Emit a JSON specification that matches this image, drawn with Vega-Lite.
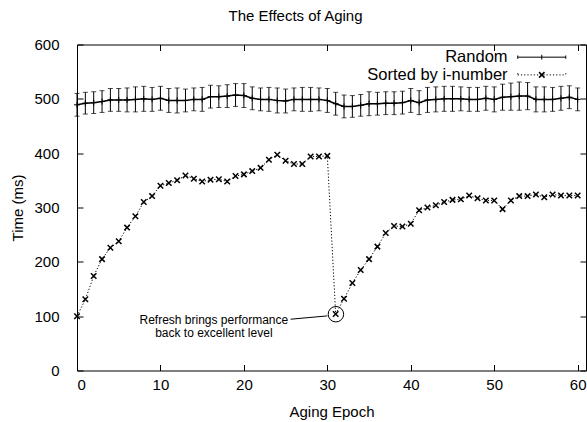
{
  "$schema": "https://vega.github.io/schema/vega-lite/v6.json",
  "width": 509,
  "height": 326,
  "autosize": "none",
  "padding": {"left": 77, "top": 44.5, "right": 1, "bottom": 51.5},
  "background": "white",
  "title": {"text": "The Effects of Aging", "fontSize": 15, "font": "Liberation Sans", "fontWeight": "normal", "color": "black", "anchor": "middle", "dx": -36, "offset": 14},
  "config": {
    "view": {"stroke": "black", "strokeWidth": 1},
    "axis": {"labelFont": "Liberation Sans", "labelFontSize": 15, "labelColor": "black", "titleFont": "Liberation Sans", "titleFontSize": 15, "titleFontWeight": "normal", "titleColor": "black", "tickColor": "black", "tickSize": -6, "domain": false, "grid": false},
    "text": {"font": "Liberation Sans", "color": "black"}
  },
  "datasets": {
    "random": [
      {"x":0,"y":489,"lo":468,"hi":510},{"x":1,"y":492,"lo":472,"hi":512},{"x":2,"y":493,"lo":473,"hi":513},{"x":3,"y":495,"lo":475,"hi":515},{"x":4,"y":498,"lo":477,"hi":519},{"x":5,"y":498,"lo":477,"hi":519},{"x":6,"y":498,"lo":476,"hi":520},{"x":7,"y":499,"lo":476,"hi":522},{"x":8,"y":500,"lo":477,"hi":523},{"x":9,"y":499,"lo":477,"hi":521},{"x":10,"y":501,"lo":479,"hi":523},
      {"x":11,"y":497,"lo":475,"hi":519},{"x":12,"y":497,"lo":474,"hi":520},{"x":13,"y":497,"lo":476,"hi":518},{"x":14,"y":499,"lo":478,"hi":520},{"x":15,"y":499,"lo":477,"hi":521},{"x":16,"y":504,"lo":483,"hi":525},{"x":17,"y":504,"lo":484,"hi":524},{"x":18,"y":505,"lo":484,"hi":526},{"x":19,"y":507,"lo":486,"hi":528},{"x":20,"y":506,"lo":484,"hi":528},
      {"x":21,"y":501,"lo":480,"hi":522},{"x":22,"y":499,"lo":478,"hi":520},{"x":23,"y":499,"lo":477,"hi":521},{"x":24,"y":497,"lo":474,"hi":520},{"x":25,"y":496,"lo":474,"hi":518},{"x":26,"y":499,"lo":478,"hi":520},{"x":27,"y":499,"lo":477,"hi":521},{"x":28,"y":499,"lo":477,"hi":521},{"x":29,"y":499,"lo":478,"hi":520},{"x":30,"y":497,"lo":475,"hi":519},
      {"x":31,"y":491,"lo":470,"hi":512},{"x":32,"y":486,"lo":465,"hi":507},{"x":33,"y":486,"lo":466,"hi":506},{"x":34,"y":488,"lo":468,"hi":508},{"x":35,"y":491,"lo":469,"hi":513},{"x":36,"y":491,"lo":470,"hi":512},{"x":37,"y":492,"lo":471,"hi":513},{"x":38,"y":492,"lo":471,"hi":513},{"x":39,"y":493,"lo":472,"hi":514},{"x":40,"y":497,"lo":475,"hi":519},
      {"x":41,"y":493,"lo":471,"hi":515},{"x":42,"y":498,"lo":475,"hi":521},{"x":43,"y":499,"lo":476,"hi":522},{"x":44,"y":500,"lo":477,"hi":523},{"x":45,"y":500,"lo":477,"hi":523},{"x":46,"y":500,"lo":478,"hi":522},{"x":47,"y":499,"lo":477,"hi":521},{"x":48,"y":499,"lo":477,"hi":521},{"x":49,"y":501,"lo":479,"hi":523},{"x":50,"y":499,"lo":476,"hi":522},
      {"x":51,"y":503,"lo":479,"hi":527},{"x":52,"y":504,"lo":479,"hi":529},{"x":53,"y":505,"lo":479,"hi":531},{"x":54,"y":505,"lo":480,"hi":530},{"x":55,"y":499,"lo":476,"hi":522},{"x":56,"y":499,"lo":476,"hi":522},{"x":57,"y":499,"lo":477,"hi":521},{"x":58,"y":501,"lo":479,"hi":523},{"x":59,"y":503,"lo":482,"hi":524},{"x":60,"y":499,"lo":478,"hi":520}
    ],
    "sorted": [
      {"x":0,"y":100},{"x":1,"y":131},{"x":2,"y":174},{"x":3,"y":205},{"x":4,"y":226},{"x":5,"y":238},{"x":6,"y":263},{"x":7,"y":284},{"x":8,"y":310},{"x":9,"y":321},{"x":10,"y":340},
      {"x":11,"y":345},{"x":12,"y":350},{"x":13,"y":359},{"x":14,"y":353},{"x":15,"y":348},{"x":16,"y":351},{"x":17,"y":352},{"x":18,"y":348},{"x":19,"y":358},{"x":20,"y":361},
      {"x":21,"y":367},{"x":22,"y":373},{"x":23,"y":388},{"x":24,"y":397},{"x":25,"y":386},{"x":26,"y":380},{"x":27,"y":380},{"x":28,"y":394},{"x":29,"y":394},{"x":30,"y":395},
      {"x":31,"y":104},{"x":32,"y":132},{"x":33,"y":161},{"x":34,"y":185},{"x":35,"y":205},{"x":36,"y":228},{"x":37,"y":253},{"x":38,"y":266},{"x":39,"y":265},{"x":40,"y":270},
      {"x":41,"y":295},{"x":42,"y":300},{"x":43,"y":304},{"x":44,"y":310},{"x":45,"y":314},{"x":46,"y":315},{"x":47,"y":322},{"x":48,"y":317},{"x":49,"y":313},{"x":50,"y":313},
      {"x":51,"y":297},{"x":52,"y":313},{"x":53,"y":321},{"x":54,"y":321},{"x":55,"y":324},{"x":56,"y":319},{"x":57,"y":324},{"x":58,"y":322},{"x":59,"y":322},{"x":60,"y":322}
    ]
  },
  "resolve": {"axis": {"x": "independent", "y": "independent"}},
  "layer": [
    {
      "data": {"name": "random"},
      "mark": {"type": "rule", "color": "black", "strokeWidth": 1},
      "encoding": {
        "x": {"field": "x", "type": "quantitative", "scale": {"domain": [0, 61], "nice": false}, "axis": {"orient": "bottom", "values": [0,10,20,30,40,50,60], "title": "Aging Epoch", "labelPadding": 13, "titlePadding": 12}},
        "y": {"field": "lo", "type": "quantitative", "scale": {"domain": [0, 600], "nice": false}, "axis": {"orient": "left", "values": [0,100,200,300,400,500,600], "title": "Time (ms)", "labelPadding": 24, "titlePadding": 8}},
        "y2": {"field": "hi"}
      }
    },
    {
      "data": {"name": "random"},
      "mark": {"type": "tick", "orient": "horizontal", "size": 5, "thickness": 1, "color": "black"},
      "encoding": {
        "x": {"field": "x", "type": "quantitative", "axis": {"orient": "top", "values": [0,10,20,30,40,50,60], "labels": false, "title": null}},
        "y": {"field": "lo", "type": "quantitative", "axis": {"orient": "right", "values": [0,100,200,300,400,500,600], "labels": false, "title": null}}
      }
    },
    {
      "data": {"name": "random"},
      "mark": {"type": "tick", "orient": "horizontal", "size": 5, "thickness": 1, "color": "black"},
      "encoding": {
        "x": {"field": "x", "type": "quantitative", "axis": null},
        "y": {"field": "hi", "type": "quantitative", "axis": null}
      }
    },
    {
      "data": {"name": "random"},
      "mark": {"type": "line", "color": "black", "strokeWidth": 1.5},
      "encoding": {
        "x": {"field": "x", "type": "quantitative", "axis": null},
        "y": {"field": "y", "type": "quantitative", "axis": null}
      }
    },
    {
      "data": {"name": "random"},
      "mark": {"type": "point", "shape": "M-1,0L1,0M0,-1L0,1", "size": 36, "filled": false, "stroke": "black", "strokeWidth": 1, "opacity": 1},
      "encoding": {
        "x": {"field": "x", "type": "quantitative", "axis": null},
        "y": {"field": "y", "type": "quantitative", "axis": null}
      }
    },
    {
      "data": {"name": "sorted"},
      "mark": {"type": "line", "color": "black", "strokeWidth": 1, "strokeDash": [1.2, 2]},
      "encoding": {
        "x": {"field": "x", "type": "quantitative", "axis": null},
        "y": {"field": "y", "type": "quantitative", "axis": null}
      }
    },
    {
      "data": {"name": "sorted"},
      "mark": {"type": "point", "shape": "M-1,-1L1,1M-1,1L1,-1", "size": 30, "filled": false, "stroke": "black", "strokeWidth": 1.5, "opacity": 1},
      "encoding": {
        "x": {"field": "x", "type": "quantitative", "axis": null},
        "y": {"field": "y", "type": "quantitative", "axis": null}
      }
    },
    {
      "data": {"values": [{}]},
      "mark": {"type": "text", "fontSize": 12, "align": "center", "baseline": "middle", "lineHeight": 13},
      "encoding": {
        "x": {"datum": 16.4, "type": "quantitative", "axis": null},
        "y": {"datum": 93.7, "type": "quantitative", "axis": null},
        "text": {"value": ["Refresh brings performance", "back to excellent level"]}
      }
    },
    {
      "data": {"values": [{}]},
      "mark": {"type": "rule", "color": "black", "strokeWidth": 1},
      "encoding": {
        "x": {"datum": 25.6, "type": "quantitative", "axis": null},
        "x2": {"datum": 30.0},
        "y": {"datum": 94.4, "type": "quantitative", "axis": null},
        "y2": {"datum": 100.5}
      }
    },
    {
      "data": {"values": [{}]},
      "mark": {"type": "point", "shape": "circle", "size": 240, "filled": false, "stroke": "black", "strokeWidth": 1, "opacity": 1},
      "encoding": {
        "x": {"datum": 31.03, "type": "quantitative", "axis": null},
        "y": {"datum": 103.6, "type": "quantitative", "axis": null}
      }
    },
    {
      "data": {"values": [{}]},
      "mark": {"type": "text", "fontSize": 16.5, "align": "right", "baseline": "middle"},
      "encoding": {
        "x": {"datum": 51.6, "type": "quantitative", "axis": null},
        "y": {"datum": 576.7, "type": "quantitative", "axis": null},
        "text": {"value": "Random"}
      }
    },
    {
      "data": {"values": [{}]},
      "mark": {"type": "text", "fontSize": 16.5, "align": "right", "baseline": "middle"},
      "encoding": {
        "x": {"datum": 51.6, "type": "quantitative", "axis": null},
        "y": {"datum": 544.1, "type": "quantitative", "axis": null},
        "text": {"value": "Sorted by i-number"}
      }
    },
    {
      "data": {"values": [{}]},
      "mark": {"type": "point", "shape": "M-1,0L1,0M-1,-0.07L-1,0.07M1,-0.07L1,0.07M0,-0.1L0,0.1", "size": 2304, "filled": false, "stroke": "black", "strokeWidth": 1, "opacity": 1},
      "encoding": {
        "x": {"datum": 55.7, "type": "quantitative", "axis": null},
        "y": {"datum": 576.7, "type": "quantitative", "axis": null}
      }
    },
    {
      "data": {"values": [{}]},
      "mark": {"type": "point", "shape": "M-1,0L1,0M-1,-0.07L-1,0.07M1,-0.07L1,0.07", "size": 2304, "filled": false, "stroke": "black", "strokeWidth": 1, "strokeDash": [1.2, 2], "opacity": 1},
      "encoding": {
        "x": {"datum": 55.7, "type": "quantitative", "axis": null},
        "y": {"datum": 544.1, "type": "quantitative", "axis": null}
      }
    },
    {
      "data": {"values": [{}]},
      "mark": {"type": "point", "shape": "M-1,-1L1,1M-1,1L1,-1", "size": 30, "filled": false, "stroke": "black", "strokeWidth": 1.5, "opacity": 1},
      "encoding": {
        "x": {"datum": 55.7, "type": "quantitative", "axis": null},
        "y": {"datum": 544.1, "type": "quantitative", "axis": null}
      }
    }
  ]
}
